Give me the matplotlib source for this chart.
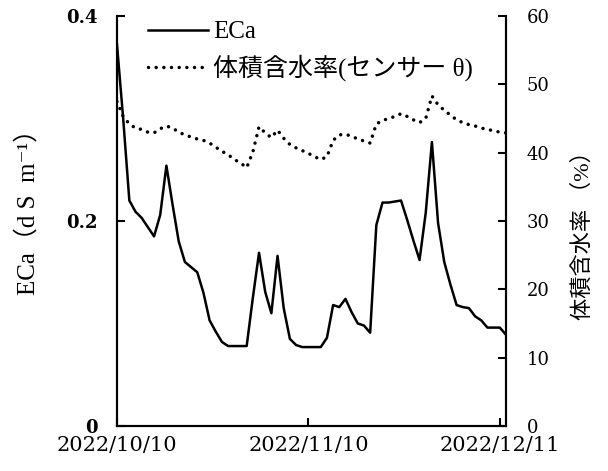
import matplotlib
matplotlib.use('Agg')
import matplotlib.pyplot as plt
import pandas as pd

plt.rcParams['font.family'] = ['DejaVu Serif', 'Noto Sans CJK JP']
mixed_font = ['Liberation Serif', 'DejaVu Serif', 'Noto Sans CJK JP']

start_date = '2022-10-10'
end_date = '2022-12-12'

eca = [0.372, 0.300, 0.220, 0.209, 0.203, 0.194, 0.185, 0.206, 0.254, 0.216,
       0.180, 0.160, 0.155, 0.150, 0.130, 0.103, 0.092, 0.082, 0.078, 0.078,
       0.078, 0.078, 0.125, 0.169, 0.131, 0.110, 0.166, 0.115, 0.085, 0.079,
       0.077, 0.077, 0.077, 0.077, 0.086, 0.118, 0.116, 0.124, 0.111, 0.100,
       0.098, 0.091, 0.196, 0.218, 0.218, 0.219, 0.220, 0.201, 0.181, 0.162,
       0.208, 0.277, 0.198, 0.160, 0.138, 0.118, 0.116, 0.115, 0.107, 0.103,
       0.096, 0.096, 0.096, 0.089]

theta = [47.5, 45.3, 44.2, 43.6, 43.4, 43.0, 42.9, 43.5, 43.9, 43.6,
         43.0, 42.6, 42.3, 42.0, 41.8, 41.4, 40.8, 40.2, 39.7, 39.0,
         38.5, 37.8, 40.1, 43.8, 42.9, 42.2, 43.3, 42.1, 41.2, 40.7,
         40.3, 39.9, 39.4, 39.0, 39.4, 41.8, 42.6, 42.7, 42.4, 42.0,
         41.7, 41.4, 44.2, 44.7, 45.0, 45.3, 45.7, 45.3, 44.8, 44.4,
         45.0, 48.3, 47.0, 46.2, 45.5, 44.8, 44.4, 44.1, 43.9, 43.6,
         43.4, 43.2, 43.0, 42.9]

xtick_dates = ['2022-10-10', '2022-11-10', '2022-12-11']
xtick_labels = ['2022/10/10', '2022/11/10', '2022/12/11']
eca_ticks = [0, 0.2, 0.4]
eca_tick_labels = ['0', '0.2', '0.4']
theta_ticks = [0, 10, 20, 30, 40, 50, 60]
theta_tick_labels = ['0', '10', '20', '30', '40', '50', '60']

label_eca = 'ECa'
label_theta = '体積含水率(センサー θ)'
ylabel_left = 'ECa（d S  m⁻¹）'
ylabel_right = '体積含水率 （%）'

dates = pd.date_range(start_date, periods=len(eca), freq='D')

fig = plt.figure(figsize=(6.08, 4.71), dpi=100)
ax = fig.add_axes([117/608, 45/471, 389/608, 410/471])
ax2 = ax.twinx()

l1, = ax.plot(dates, eca, color='black', lw=1.8, label=label_eca)
l2, = ax2.plot(dates, theta, color='black', lw=2.5, linestyle=(0, (0.01, 2.2)),
               dash_capstyle='round', label=label_theta)

ax.set_xlim(pd.Timestamp(start_date), pd.Timestamp(end_date))
ax.set_ylim(0, 0.4)
ax2.set_ylim(0, 60)

for a in (ax, ax2):
    a.spines['top'].set_visible(False)
    for s in ('left', 'right', 'bottom'):
        a.spines[s].set_linewidth(1.5)

ax.set_xticks(pd.to_datetime(xtick_dates))
ax.set_xticklabels(xtick_labels, fontsize=15)
ax.set_yticks(eca_ticks)
ax.set_yticklabels(eca_tick_labels, fontsize=13, fontweight='bold')
ax2.set_yticks(theta_ticks)
ax2.set_yticklabels(theta_tick_labels, fontsize=13)

ax.tick_params(axis='x', direction='in', length=6, width=1.5, pad=7)
ax.tick_params(axis='y', direction='in', length=6, width=1.5, pad=14)
ax2.tick_params(axis='y', direction='in', length=6, width=1.5, pad=15)

ax.set_ylabel(ylabel_left, fontsize=18, family=mixed_font)
ax.yaxis.set_label_coords(-0.198, 0.536)
ax2.set_ylabel(ylabel_right, fontsize=16, family=mixed_font)
ax2.yaxis.set_label_coords(1.172, 0.478)

leg = ax2.legend([l1, l2], [label_eca, label_theta], loc='upper left',
                 bbox_to_anchor=(0.08, 0.988), frameon=False,
                 prop={'family': mixed_font, 'size': 18},
                 handlelength=2.4, handletextpad=0.2, labelspacing=0.45,
                 borderpad=0.0, borderaxespad=0.0)

fig.savefig('out.png', dpi=100)
